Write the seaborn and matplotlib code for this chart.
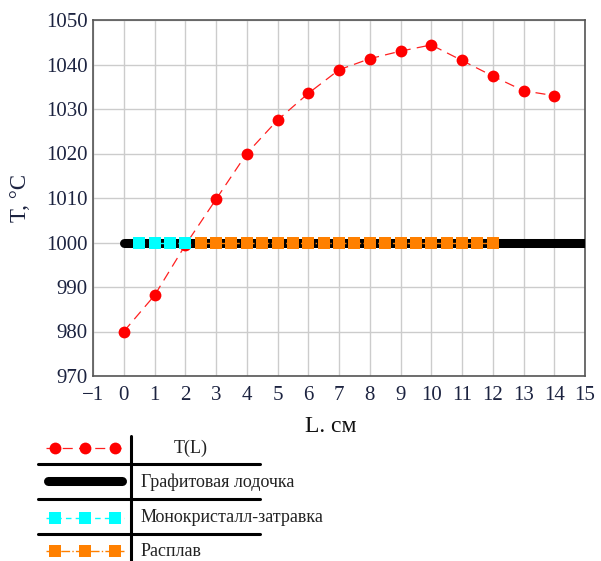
import matplotlib
matplotlib.use("Agg")
import matplotlib.pyplot as plt
import seaborn as sns
import pandas as pd

# ---- data ----
L_cm = [0, 1, 2, 3, 4, 5, 6, 7, 8, 9, 10, 11, 12, 13, 14]
T_L = [980.0, 988.1, 999.4, 1009.7, 1020.0, 1027.5, 1033.5, 1038.8, 1041.3,
       1043.0, 1044.4, 1040.9, 1037.4, 1034.1, 1033.0]
boat_x = [0, 15]
boat_y = [1000, 1000]
seed_x = [0.5, 1.0, 1.5, 2.0]
seed_y = [1000, 1000, 1000, 1000]
melt_x = [2.5, 3.0, 3.5, 4.0, 4.5, 5.0, 5.5, 6.0, 6.5, 7.0, 7.5, 8.0, 8.5,
          9.0, 9.5, 10.0, 10.5, 11.0, 11.5, 12.0]
melt_y = [1000] * len(melt_x)
x_ticks = list(range(-1, 16))
y_ticks = [970, 980, 990, 1000, 1010, 1020, 1030, 1040, 1050]
legend_labels = ["T(L)", "Графитовая лодочка", "Монокристалл-затравка", "Расплав"]
x_label = "L. см"
y_label = "T, °C"

sns.set_theme(style="white")
plt.rcParams["font.family"] = ["Liberation Serif", "DejaVu Serif"]

W, H = 601, 561
fig = plt.figure(figsize=(W / 100, H / 100), dpi=100)
ax = fig.add_axes([93 / W, 1 - 376 / H, (585 - 93) / W, (376 - 20) / H])

txt_col = "#1c2340"
ORANGE = "#ff8000"
CYAN = "#00ffff"

sns.lineplot(x=boat_x, y=boat_y, ax=ax, color="black", lw=6.5,
             solid_capstyle="round", zorder=3)
sns.lineplot(x=seed_x, y=seed_y, ax=ax, color=CYAN, lw=1, linestyle=(0, (4, 3)),
             marker="s", markersize=9.3, markeredgewidth=0, zorder=5)
sns.lineplot(x=melt_x, y=melt_y, ax=ax, color=ORANGE, lw=1, linestyle="-.",
             marker="s", markersize=9.3, markeredgewidth=0, zorder=5)
sns.lineplot(x=L_cm, y=T_L, ax=ax, color="#ff2020", lw=0.9, linestyle=(0, (8, 5)),
             marker="o", markersize=8.5, markeredgewidth=0,
             markerfacecolor="red", zorder=4)

ax.set_xlim(-1, 15)
ax.set_ylim(970, 1050)
ax.set_xticks(x_ticks)
ax.set_yticks(y_ticks)
ax.set_xticklabels([("\u2212" + str(-t)) if t < 0 else str(t) for t in x_ticks])
ax.grid(True, color="#cccccc", lw=1)
ax.set_axisbelow(True)
for s in ax.spines.values():
    s.set_color("#555555")
    s.set_linewidth(1.2)
ax.tick_params(axis="both", length=0, labelsize=15, colors=txt_col)
ax.tick_params(axis="x", pad=7)
ax.tick_params(axis="y", pad=4)
ax.set_xlabel("")
ax.set_ylabel("")
fig.text(20 / W, 1 - 198 / H, y_label, rotation=90, ha="center", va="center",
         fontsize=16.5, color=txt_col)
fig.text(331 / W, 1 - 427 / H, x_label, ha="center", va="center",
         fontsize=17, color="#111111")

# ---- legend table ----
lg = fig.add_axes([0, 0, 1, 1], zorder=-1)
lg.set_xlim(0, W)
lg.set_ylim(H, 0)
lg.axis("off")
lg.plot([131, 131], [436, 561], color="black", lw=2.2)
for yy in [464, 499, 534]:
    lg.plot([38, 260], [yy, yy], color="black", lw=2.2)
mx = [55, 85, 115]
lg.plot([46, 124], [448, 448], color="#ff2020", lw=0.9, linestyle=(0, (8, 5)))
lg.plot(mx, [448] * 3, "o", color="red", markersize=8.5, markeredgewidth=0)
lg.plot([48, 122], [481, 481], color="black", lw=6.5, solid_capstyle="round")
lg.plot([46, 124], [518, 518], color=CYAN, lw=1, linestyle=(0, (4, 3)))
lg.plot(mx, [518] * 3, "s", color=CYAN, markersize=9.3, markeredgewidth=0)
lg.plot([46, 124], [551, 551], color=ORANGE, lw=1, linestyle="-.")
lg.plot(mx, [551] * 3, "s", color=ORANGE, markersize=9.3, markeredgewidth=0)
lg.text(191, 448, legend_labels[0], ha="center", va="center", fontsize=13, color="#222222")
lg.text(141, 482, legend_labels[1], ha="left", va="center", fontsize=13, color="#222222")
lg.text(141, 518, legend_labels[2], ha="left", va="center", fontsize=13, color="#222222")
lg.text(141, 551, legend_labels[3], ha="left", va="center", fontsize=13, color="#222222")

fig.savefig("out.png", dpi=100)
